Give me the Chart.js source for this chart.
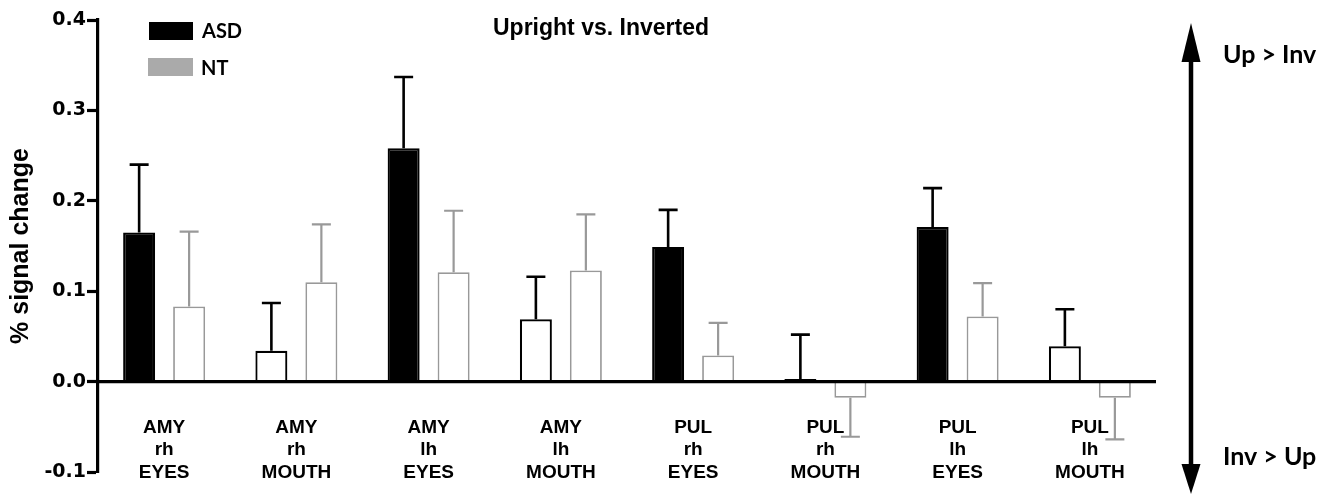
<!DOCTYPE html>
<html><head><meta charset="utf-8">
<script src="https://cdn.jsdelivr.net/npm/chart.js@4/dist/chart.umd.min.js"></script>
<style>html,body{margin:0;padding:0;background:#fff;overflow:hidden}#wrap{width:1334px;height:495px}</style>
</head><body><div id="wrap"><canvas id="c" width="1334" height="495"></canvas></div>
<script>
const regions = ['AMY','AMY','AMY','AMY','PUL','PUL','PUL','PUL'];
const hemis = ['rh','rh','lh','lh','rh','rh','lh','lh'];
const features = ['EYES','MOUTH','EYES','MOUTH','EYES','MOUTH','EYES','MOUTH'];
const asdMeans = [0.165, 0.034, 0.258, 0.069, 0.149, 0.003, 0.171, 0.039];
const asdSEM   = [0.075, 0.053, 0.079, 0.047, 0.041, 0.049, 0.043, 0.041];
const ntMeans  = [0.083, 0.110, 0.121, 0.123, 0.029, -0.018, 0.072, -0.018];
const ntSEM    = [0.083, 0.064, 0.068, 0.062, 0.036, 0.043, 0.037, 0.046];
const yMin = -0.1, yMax = 0.4, yStep = 0.1;
const seriesNames = ['ASD', 'NT'];
const chartTitle = 'Upright vs. Inverted';
const yTitle = '% signal change';
const arrowTop = 'Up > Inv', arrowBottom = 'Inv > Up';

const labels = regions.map((r, i) => [r, hemis[i], features[i]]);
const asdFill = features.map(f => f === 'EYES' ? '#000' : '#fff');
const errs = [asdSEM, ntSEM];
const errColors = ['#000', '#999'];

const GRAY = '#999';
const sans = '"Liberation Sans", Arial, sans-serif';
const geo = 'Lato, "DejaVu Sans", sans-serif';
const wide = '"DejaVu Sans", sans-serif';

const decor = {
  id: 'decor',
  afterDatasetsDraw(chart) {
    const ctx = chart.ctx, ys = chart.scales.y, ca = chart.chartArea;
    ctx.save();
    chart.data.datasets.forEach((ds, di) => {
      const meta = chart.getDatasetMeta(di);
      meta.data.forEach((el, i) => {
        const v = ds.data[i], e = errs[di][i];
        const end = v >= 0 ? v + e : v - e;
        const y0 = ys.getPixelForValue(v), y1 = ys.getPixelForValue(end);
        ctx.strokeStyle = errColors[di];
        ctx.lineWidth = di === 0 ? 2.6 : 2.2;
        ctx.beginPath();
        ctx.moveTo(el.x, y0); ctx.lineTo(el.x, y1);
        ctx.moveTo(el.x - 9.5, y1); ctx.lineTo(el.x + 9.5, y1);
        ctx.stroke();
      });
    });
    const yz = ys.getPixelForValue(0);
    ctx.strokeStyle = '#000'; ctx.lineWidth = 3.2;
    ctx.beginPath(); ctx.moveTo(ca.left, yz); ctx.lineTo(ca.right, yz); ctx.stroke();
    ctx.restore();
  },
  afterDraw(chart) {
    const ctx = chart.ctx, xs = chart.scales.x, ys = chart.scales.y, ca = chart.chartArea;
    ctx.save();
    ctx.fillStyle = '#000';
    const yz = ys.getPixelForValue(0);
    ctx.font = 'bold 19px ' + sans;
    ctx.textAlign = 'center'; ctx.textBaseline = 'middle';
    labels.forEach((lines, i) => {
      const x = xs.getPixelForValue(i);
      lines.forEach((t, k) => ctx.fillText(t, x, yz + 46 + k * 22.5));
    });
    ctx.font = 'bold 23px ' + sans;
    ctx.fillText(chartTitle, 601, 29);
    ctx.fillStyle = '#000';
    ctx.fillRect(149, 22, 44, 18);
    ctx.fillStyle = '#aaa';
    ctx.fillRect(148, 58, 45, 18);
    ctx.fillStyle = '#000';
    ctx.textAlign = 'left';
    ctx.font = 'bold 20px ' + geo;
    ctx.fillText(seriesNames[0], 202, 32);
    ctx.fillText(seriesNames[1], 201, 69);
    const ax = ca.right + 35;
    ctx.strokeStyle = '#000'; ctx.lineWidth = 4.5;
    ctx.beginPath(); ctx.moveTo(ax, 50); ctx.lineTo(ax, 468); ctx.stroke();
    ctx.beginPath(); ctx.moveTo(ax, 23); ctx.lineTo(ax - 9.5, 62); ctx.lineTo(ax + 9.5, 62); ctx.closePath(); ctx.fill();
    ctx.beginPath(); ctx.moveTo(ax, 494); ctx.lineTo(ax - 9.5, 464); ctx.lineTo(ax + 9.5, 464); ctx.closePath(); ctx.fill();
    ctx.font = 'bold 25px ' + geo;
    ctx.fillText(arrowTop, ax + 32, 55);
    ctx.fillText(arrowBottom, ax + 32, 457);
    ctx.restore();
  }
};

new Chart(document.getElementById('c'), {
  type: 'bar',
  data: {
    labels: labels,
    datasets: [
      { label: seriesNames[0], data: asdMeans, backgroundColor: asdFill, borderColor: '#000', borderWidth: 2.2 },
      { label: seriesNames[1], data: ntMeans, backgroundColor: '#fff', borderColor: GRAY, borderWidth: 1.8 }
    ]
  },
  options: {
    responsive: false,
    devicePixelRatio: 1,
    animation: false,
    categoryPercentage: 0.756,
    barPercentage: 0.64,
    layout: { padding: { left: 0, right: 178, top: 20, bottom: 23 } },
    plugins: { legend: { display: false }, tooltip: { enabled: false }, title: { display: false } },
    scales: {
      x: { display: false, offset: true },
      y: {
        min: yMin, max: yMax,
        afterFit: s => { s.width = 98; },
        border: { display: true, width: 3.2, color: '#000' },
        grid: { display: true, drawOnChartArea: false, drawTicks: true, tickLength: 11, tickWidth: 3.2, tickColor: '#000', color: '#000' },
        ticks: {
          stepSize: yStep, color: '#000', padding: 1,
          font: { family: wide, weight: 'bold', size: 19 },
          callback: v => (Math.abs(v) < 1e-9 ? 0 : v).toFixed(1)
        },
        title: { display: true, text: yTitle, color: '#000', font: { family: sans, weight: 'bold', size: 25 }, padding: { top: 6, bottom: 0 } }
      }
    }
  },
  plugins: [decor]
});
</script></body></html>
